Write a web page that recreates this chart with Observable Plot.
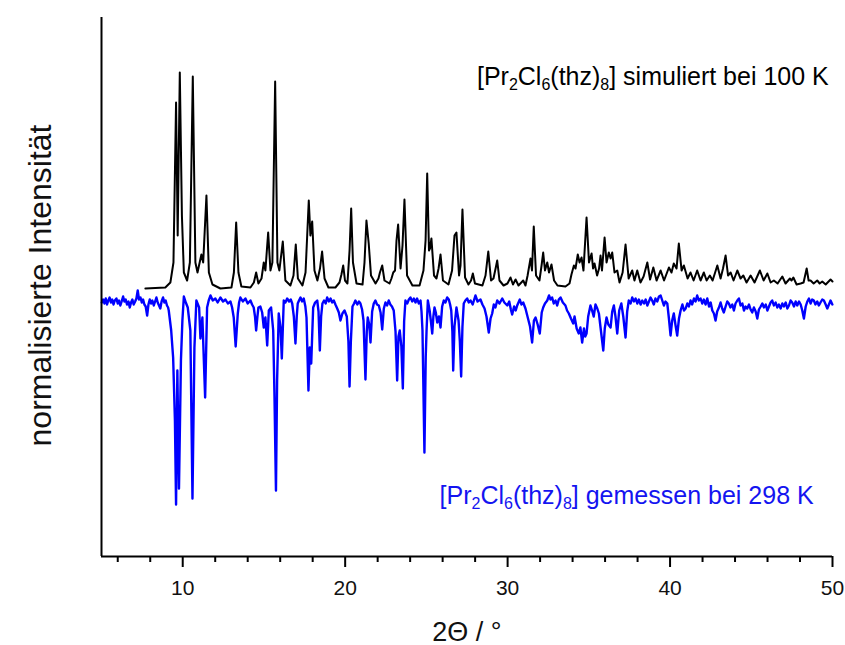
<!DOCTYPE html>
<html><head><meta charset="utf-8">
<script src="https://cdn.jsdelivr.net/npm/d3@7"></script>
<script src="https://cdn.jsdelivr.net/npm/@observablehq/plot@0.6"></script>
<style>body{margin:0;background:#fff}</style>
</head><body><div id="chart"></div>
<script>
// simulated pattern [2θ, intensity (a.u.)]
const simulated = [
[7.70,268],[8.93,269],[9.24,274],[9.43,294],[9.59,454],[9.69,321],[9.82,484],[9.95,341],[10.07,284],[10.27,276],
[10.44,294],[10.62,480],[10.78,294],[10.91,284],[11.15,302],[11.26,294],[11.46,361],[11.61,284],[11.83,272],[12.32,268],
[13.00,269],[13.15,284],[13.29,334],[13.43,284],[13.61,270],[14.17,269],[14.38,274],[14.52,284],[14.66,273],[14.85,278],
[14.99,294],[15.09,286],[15.26,324],[15.40,286],[15.52,294],[15.69,475],[15.83,294],[15.95,286],[16.16,315],[16.32,276],
[16.63,271],[16.82,281],[16.96,312],[17.09,278],[17.37,271],[17.56,284],[17.76,356],[17.86,321],[17.97,335],[18.11,286],
[18.29,276],[18.45,288],[18.58,305],[18.73,278],[18.97,269],[19.40,269],[19.65,274],[19.77,282],[19.88,291],[19.99,276],
[20.14,273],[20.27,306],[20.37,348],[20.48,294],[20.70,273],[21.07,272],[21.19,294],[21.31,336],[21.45,313],[21.59,281],
[21.87,273],[22.05,278],[22.14,284],[22.28,291],[22.42,276],[22.73,273],[22.85,278],[22.96,284],[23.07,286],[23.16,316],
[23.26,332],[23.41,288],[23.53,311],[23.65,357],[23.81,281],[24.14,271],[24.58,271],[24.82,286],[24.95,316],[25.05,383],
[25.16,306],[25.22,308],[25.31,318],[25.47,281],[25.62,278],[25.75,288],[25.87,302],[26.02,276],[26.36,272],[26.58,286],
[26.73,321],[26.85,324],[27.01,281],[27.10,291],[27.22,347],[27.38,279],[27.59,272],[27.75,276],[27.86,283],[27.99,273],
[28.45,271],[28.64,281],[28.81,305],[28.98,276],[29.13,278],[29.26,288],[29.36,296],[29.50,276],[29.75,271],[29.99,273],
[30.18,279],[30.33,272],[30.49,277],[30.67,271],[30.96,276],[31.10,271],[31.23,281],[31.41,298],[31.50,286],[31.61,330],
[31.75,281],[31.96,276],[32.09,291],[32.19,304],[32.30,286],[32.44,294],[32.55,284],[32.70,292],[32.86,276],[33.07,271],
[33.56,270],[33.81,273],[33.93,282],[34.08,291],[34.18,288],[34.32,302],[34.43,294],[34.55,299],[34.67,286],[34.86,339],
[35.01,294],[35.17,303],[35.26,288],[35.35,293],[35.51,281],[35.63,288],[35.72,301],[35.81,286],[35.97,319],[36.09,294],
[36.23,304],[36.34,298],[36.44,304],[36.58,284],[36.75,286],[36.89,274],[37.08,284],[37.26,312],[37.45,278],[37.67,286],
[37.81,276],[37.98,286],[38.18,274],[38.37,280],[38.60,294],[38.77,277],[38.97,289],[39.17,276],[39.42,286],[39.63,276],
[39.93,289],[40.09,284],[40.23,293],[40.40,288],[40.54,313],[40.71,286],[40.85,291],[41.08,278],[41.26,284],[41.45,276],
[41.67,286],[41.88,276],[42.08,284],[42.25,276],[42.45,281],[42.62,276],[42.91,291],[43.11,278],[43.26,288],[43.42,301],
[43.57,281],[43.73,284],[43.91,276],[44.14,286],[44.34,278],[44.51,281],[44.71,274],[44.96,281],[45.20,274],[45.53,286],
[45.76,276],[45.99,283],[46.19,274],[46.39,276],[46.62,273],[46.91,280],[47.11,273],[47.38,278],[47.48,276],[47.59,279],
[47.79,272],[48.04,273],[48.22,274],[48.41,288],[48.53,276],[48.65,276],[48.84,273],[49.06,276],[49.21,273],[49.37,275],
[49.58,272],[49.88,277],[50.00,275]
];
// measured pattern (plotted inverted) [2θ, intensity (a.u.)]
const measured = [
[5.02,254],[5.10,257],[5.18,253],[5.26,258],[5.34,252],[5.42,256],[5.50,259],[5.58,254],[5.66,257],[5.74,252],
[5.82,256],[5.92,258],[6.00,253],[6.08,256],[6.16,251],[6.24,255],[6.33,260],[6.41,255],[6.49,257],[6.57,252],
[6.66,255],[6.74,249],[6.82,254],[6.90,257],[6.98,252],[7.07,255],[7.15,258],[7.23,266],[7.31,257],[7.40,259],
[7.48,254],[7.56,257],[7.64,252],[7.72,250],[7.81,241],[7.89,252],[7.97,257],[8.05,253],[8.13,256],[8.22,251],
[8.30,255],[8.38,259],[8.46,254],[8.54,251],[8.62,248],[8.70,255],[8.79,259],[8.87,254],[8.95,256],[9.03,251],
[9.10,249],[9.14,246],[9.29,226],[9.41,199],[9.52,136],[9.59,52],[9.67,186],[9.77,68],[9.89,196],[9.98,236],
[10.07,260],[10.19,254],[10.31,249],[10.47,226],[10.60,58],[10.72,209],[10.84,256],[11.01,249],[11.09,218],[11.21,239],
[11.38,159],[11.50,249],[11.60,256],[11.71,261],[11.85,256],[12.01,258],[12.15,254],[12.32,259],[12.48,255],[12.63,257],
[12.78,253],[12.94,255],[13.04,249],[13.14,239],[13.26,210],[13.39,243],[13.47,254],[13.55,259],[13.70,255],[13.86,258],
[14.00,253],[14.17,256],[14.27,252],[14.37,249],[14.45,240],[14.52,226],[14.60,240],[14.66,249],[14.78,250],[14.89,244],
[14.99,229],[15.09,239],[15.20,211],[15.30,246],[15.44,249],[15.57,226],[15.65,159],[15.74,66],[15.81,176],[15.91,243],
[16.02,229],[16.10,198],[16.22,256],[16.32,254],[16.43,258],[16.55,255],[16.65,257],[16.74,253],[16.84,240],[16.94,213],
[17.02,240],[17.08,253],[17.16,256],[17.25,259],[17.35,255],[17.45,258],[17.55,250],[17.62,239],[17.74,166],[17.82,209],
[17.91,193],[18.03,249],[18.15,254],[18.28,256],[18.36,245],[18.44,206],[18.52,240],[18.60,253],[18.70,256],[18.80,253],
[18.89,259],[19.00,255],[19.10,258],[19.20,254],[19.30,256],[19.40,252],[19.51,248],[19.61,244],[19.71,236],[19.83,243],
[19.96,246],[20.10,240],[20.20,215],[20.27,170],[20.35,215],[20.45,250],[20.55,253],[20.63,256],[20.75,252],[20.85,255],
[20.94,253],[21.04,247],[21.13,236],[21.25,177],[21.33,225],[21.39,239],[21.48,232],[21.56,214],[21.66,245],[21.76,253],
[21.86,256],[21.96,252],[22.07,251],[22.18,244],[22.28,227],[22.38,248],[22.48,254],[22.58,251],[22.68,256],[22.78,252],
[22.88,250],[22.99,246],[23.10,225],[23.20,176],[23.28,220],[23.36,226],[23.46,210],[23.55,168],[23.63,235],[23.71,256],
[23.82,253],[23.92,257],[24.02,259],[24.13,255],[24.23,258],[24.33,254],[24.43,258],[24.53,253],[24.64,256],[24.70,245],
[24.76,226],[24.88,104],[24.96,200],[25.01,226],[25.09,256],[25.20,246],[25.28,235],[25.36,223],[25.43,240],[25.50,249],
[25.58,244],[25.67,234],[25.77,240],[25.87,229],[25.97,250],[26.07,256],[26.17,254],[26.28,259],[26.38,257],[26.46,252],
[26.53,246],[26.60,225],[26.65,186],[26.73,230],[26.85,249],[26.92,242],[26.98,236],[27.06,215],[27.14,180],[27.22,230],
[27.30,253],[27.40,256],[27.51,258],[27.61,254],[27.72,256],[27.85,252],[28.02,261],[28.15,255],[28.33,257],[28.45,252],
[28.58,248],[28.70,240],[28.84,224],[28.95,238],[29.05,243],[29.15,252],[29.25,249],[29.36,256],[29.50,253],[29.67,258],
[29.80,254],[29.98,251],[30.10,255],[30.20,247],[30.28,242],[30.40,250],[30.50,246],[30.59,251],[30.75,257],[30.85,252],
[30.96,254],[31.10,248],[31.24,239],[31.38,230],[31.51,214],[31.62,236],[31.72,239],[31.85,232],[31.98,223],[32.10,244],
[32.19,249],[32.30,253],[32.44,256],[32.55,261],[32.64,257],[32.74,259],[32.84,253],[32.95,256],[33.05,251],[33.15,257],
[33.26,259],[33.40,254],[33.56,251],[33.66,246],[33.77,243],[33.90,238],[34.04,233],[34.12,240],[34.25,228],[34.38,223],
[34.48,229],[34.59,214],[34.70,228],[34.78,220],[34.86,223],[34.96,240],[35.10,251],[35.20,246],[35.30,240],[35.41,252],
[35.52,248],[35.62,243],[35.75,225],[35.89,206],[35.98,228],[36.09,239],[36.20,232],[36.34,229],[36.44,245],[36.54,251],
[36.64,240],[36.75,223],[36.87,246],[37.00,253],[37.12,240],[37.26,219],[37.36,245],[37.46,256],[37.57,253],[37.67,259],
[37.78,255],[37.88,258],[37.98,253],[38.08,257],[38.19,252],[38.29,256],[38.40,253],[38.50,257],[38.60,251],[38.70,255],
[38.80,259],[38.90,256],[39.00,252],[39.10,258],[39.21,255],[39.32,260],[39.42,261],[39.52,256],[39.62,251],[39.72,255],
[39.83,253],[39.93,238],[40.03,221],[40.13,236],[40.23,243],[40.33,232],[40.44,221],[40.55,238],[40.65,246],[40.76,252],
[40.86,246],[40.96,248],[41.06,253],[41.16,250],[41.26,256],[41.36,252],[41.47,258],[41.57,255],[41.67,261],[41.77,256],
[41.88,258],[41.98,253],[42.08,257],[42.19,252],[42.29,258],[42.40,250],[42.50,254],[42.60,246],[42.70,243],[42.80,236],
[42.90,245],[43.01,249],[43.11,254],[43.21,248],[43.31,244],[43.42,250],[43.52,255],[43.62,253],[43.72,249],[43.83,252],
[43.93,246],[44.03,253],[44.14,256],[44.24,258],[44.34,251],[44.45,253],[44.55,246],[44.65,250],[44.75,248],[44.86,252],
[44.96,247],[45.06,244],[45.16,249],[45.27,245],[45.37,238],[45.47,247],[45.58,250],[45.68,253],[45.78,249],[45.89,252],
[45.99,246],[46.09,250],[46.19,254],[46.29,256],[46.39,251],[46.50,254],[46.60,249],[46.70,252],[46.81,248],[46.91,253],
[47.01,250],[47.12,254],[47.22,248],[47.32,251],[47.42,256],[47.52,254],[47.63,250],[47.73,255],[47.83,251],[47.94,255],
[48.04,252],[48.14,246],[48.24,238],[48.35,250],[48.45,255],[48.55,258],[48.65,253],[48.75,257],[48.85,256],[48.95,252],
[49.06,255],[49.16,251],[49.26,254],[49.37,257],[49.47,256],[49.58,252],[49.68,248],[49.78,252],[49.88,256],[49.99,252]
];
const majorTicks = [10, 20, 30, 40, 50];
const minorTicks = [6, 8, 12, 14, 16, 18, 22, 24, 26, 28, 32, 34, 36, 38, 42, 44, 46, 48];
const xTitle = "2Θ / °";
const yTitle = "normalisierte Intensität";
const simLabel = "[Pr_2Cl_6(thz)_8] simuliert bei 100 K";
const measLabel = "[Pr_2Cl_6(thz)_8] gemessen bei 298 K";

const font = "'Liberation Sans', Arial, Helvetica, sans-serif";

const chart = Plot.plot({
  width: 845, height: 645,
  marginLeft: 101, marginRight: 13, marginTop: 17, marginBottom: 89,
  style: {fontFamily: font, background: "#fff", color: "#000", overflow: "visible"},
  x: {domain: [5, 50]},
  y: {domain: [0, 539], axis: null},
  marks: [
    Plot.axisX(minorTicks, {tickSize: 6, tickFormat: () => "", strokeWidth: 2, label: null}),
    Plot.axisX(majorTicks, {tickSize: 11, tickPadding: 13, fontSize: 21, strokeWidth: 2, label: null, fill: "#111"}),
    Plot.line(measured, {x: d => d[0], y: d => d[1], stroke: "#0000ff", strokeWidth: 2.4, strokeLinejoin: "round"}),
    Plot.line(simulated, {x: d => d[0], y: d => d[1], stroke: "#000", strokeWidth: 2, strokeLinejoin: "round"}),
    Plot.ruleY([0], {strokeWidth: 2}),
    Plot.ruleX([5], {strokeWidth: 2}),
    Plot.text([simLabel], {x: 49.77, y: 472, text: d => d, textAnchor: "end", lineAnchor: "bottom", fontSize: 25, fill: "#000"}),
    Plot.text([measLabel], {x: 25.81, y: 53, text: d => d, textAnchor: "start", lineAnchor: "bottom", fontSize: 25, fill: "#1414f0"}),
    Plot.text([yTitle], {x: 1.24, y: 271, text: d => d, rotate: -90, textAnchor: "middle", lineAnchor: "middle", fontSize: 32, fill: "#111"}),
    Plot.text([xTitle], {x: 27.5, y: -84, text: d => d, textAnchor: "middle", lineAnchor: "bottom", fontSize: 27, fill: "#111"})
  ]
});

// render "_d" as subscript digits
const NS = "http://www.w3.org/2000/svg";
chart.querySelectorAll("text").forEach(t => {
  const s = t.textContent;
  if (!s.includes("_")) return;
  t.textContent = "";
  const parts = s.split(/_(\d)/);
  parts.forEach((p, i) => {
    const ts = document.createElementNS(NS, "tspan");
    if (i % 2 === 1) { ts.setAttribute("font-size", "16"); ts.setAttribute("dy", "5"); }
    else if (i > 0) { ts.setAttribute("dy", "-5"); }
    ts.textContent = p;
    t.appendChild(ts);
  });
});

document.getElementById("chart").append(chart);
</script>
</body></html>
